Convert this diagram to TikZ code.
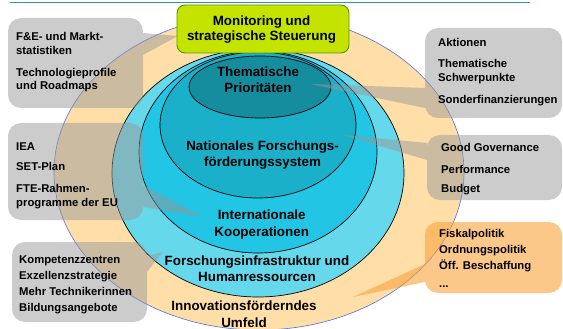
\documentclass[tikz,border=0pt]{standalone}
\usepackage{fontspec}
\setmainfont{Liberation Sans}
\definecolor{peach}{HTML}{FFDEA8}
\definecolor{ringA}{HTML}{66D8EB}
\definecolor{ringB}{HTML}{22C5E3}
\definecolor{ringC}{HTML}{1BB0CA}
\definecolor{ringD}{HTML}{168C9F}
\definecolor{limegreen}{HTML}{C4E400}
\definecolor{limeedge}{HTML}{4E9A06}
\definecolor{outerblue}{HTML}{4D6FE8}
\definecolor{topline}{HTML}{2E93AC}
\definecolor{orangebox}{HTML}{F9A33C}
\tikzset{
  grayco/.style={fill=black!40, fill opacity=0.5},
  orangeco/.style={fill=orangebox, fill opacity=0.6},
  ringline/.style={draw=black, line width=0.7pt},
  sidetxt/.style={anchor=base west, inner sep=0pt, font=\bfseries\fontsize{11.3}{13}\selectfont},
  maintxt/.style={anchor=base, inner sep=0pt, font=\bfseries\fontsize{13.4}{16}\selectfont},
}
% #1 style, #2 x1, #3 y1, #4 x2, #5 y2, #6 b1, #7 b2, #8 tip x, #9 tip y  (corner radius 13)
\newcommand{\calloutR}[9]{%
  \fill[#1] (#2+13,#3) -- (#4-13,#3) .. controls (#4-5.8,#3) and (#4,#3+5.8) .. (#4,#3+13)
    -- (#4,#6) -- (#8,#9) -- (#4,#7)
    -- (#4,#5-13) .. controls (#4,#5-5.8) and (#4-5.8,#5) .. (#4-13,#5)
    -- (#2+13,#5) .. controls (#2+5.8,#5) and (#2,#5-5.8) .. (#2,#5-13)
    -- (#2,#3+13) .. controls (#2,#3+5.8) and (#2+5.8,#3) .. (#2+13,#3) -- cycle;}
\newcommand{\calloutL}[9]{%
  \fill[#1] (#2+13,#3) -- (#4-13,#3) .. controls (#4-5.8,#3) and (#4,#3+5.8) .. (#4,#3+13)
    -- (#4,#5-13) .. controls (#4,#5-5.8) and (#4-5.8,#5) .. (#4-13,#5)
    -- (#2+13,#5) .. controls (#2+5.8,#5) and (#2,#5-5.8) .. (#2,#5-13)
    -- (#2,#7) -- (#8,#9) -- (#2,#6)
    -- (#2,#3+13) .. controls (#2,#3+5.8) and (#2+5.8,#3) .. (#2+13,#3) -- cycle;}
\begin{document}
\begin{tikzpicture}[x=1pt,y=-1pt]
\useasboundingbox (0,0) rectangle (563,329);
% top line
\draw[topline, line width=1.3pt] (10,2.5) -- (530,2.5);
% outer ellipse and rings
\filldraw[fill=peach, draw=outerblue, line width=0.6pt] (259,172) ellipse [x radius=205pt, y radius=158pt];
\filldraw[fill=ringA, ringline] (258,173) ellipse [x radius=146pt, y radius=124pt];
\filldraw[fill=ringB, ringline] (258,152) ellipse [x radius=119pt, y radius=101pt];
\filldraw[fill=ringC, ringline] (258,125) ellipse [x radius=98pt, y radius=73pt];
\filldraw[fill=ringD, ringline] (260,87) ellipse [x radius=71pt, y radius=31pt];
% callout boxes
\calloutR{grayco}{8}{18}{143}{108}{33}{55}{178}{36}
\calloutR{grayco}{8}{123}{143}{220}{185}{207}{202}{217}
\calloutR{grayco}{12}{242}{147}{322}{256}{272}{163}{252}
\calloutL{grayco}{425}{28}{562}{118}{88}{108}{310}{84}
\calloutL{grayco}{427}{135}{562}{200}{143}{160}{343}{135}
\calloutL{orangeco}{425}{222}{562}{293}{264}{282}{353}{297}
% green box
\filldraw[fill=limegreen, draw=limeedge, line width=0.9pt, rounded corners=8pt] (177,5) rectangle (349,53);
% main labels
\node[maintxt] (mon1) at (261.5,26) {Monitoring und};
\node[maintxt] (mon2) at (261.5,41) {strategische Steuerung};
\node[maintxt] (tp1) at (258,76.5) {Thematische};
\node[maintxt] (tp2) at (258,92.5) {Prioritäten};
\node[maintxt] (nf1) at (262.6,150.5) {Nationales Forschungs-};
\node[maintxt] (nf2) at (262.6,167) {förderungssystem};
\node[maintxt] (ik1) at (261.7,219.6) {Internationale};
\node[maintxt] (ik2) at (261.7,236.3) {Kooperationen};
\node[maintxt] (fi1) at (257,265.6) {Forschungsinfrastruktur und};
\node[maintxt] (fi2) at (257,281.3) {Humanressourcen};
\node[maintxt] (iu1) at (244,310.3) {Innovationsförderndes};
\node[maintxt] (iu2) at (244,327) {Umfeld};
% side texts
\node[sidetxt] (a1) at (16,41) {F\&E- und Markt-};
\node[sidetxt] (a2) at (16,55) {statistiken};
\node[sidetxt] (a3) at (16,77) {Technologieprofile};
\node[sidetxt] (a4) at (16,90) {und Roadmaps};
\node[sidetxt] (e1) at (16,150) {IEA};
\node[sidetxt] (e2) at (16,171) {SET-Plan};
\node[sidetxt] (e3) at (16,192) {FTE-Rahmen-};
\node[sidetxt] (e4) at (16,206) {programme der EU};
\node[sidetxt] (f1) at (19,263) {Kompetenzzentren};
\node[sidetxt] (f2) at (19,279) {Exzellenzstrategie};
\node[sidetxt] (f3) at (19,295) {Mehr Technikerinnen};
\node[sidetxt] (f4) at (19,311) {Bildungsangebote};
\node[sidetxt] (b1) at (438,47) {Aktionen};
\node[sidetxt] (b2) at (438,68) {Thematische};
\node[sidetxt] (b3) at (438,82) {Schwerpunkte};
\node[sidetxt] (b4) at (438,104) {Sonderfinanzierungen};
\node[sidetxt] (c1) at (441,152) {Good Governance};
\node[sidetxt] (c2) at (441,173) {Performance};
\node[sidetxt] (c3) at (441,193) {Budget};
\node[sidetxt] (d1) at (439,237) {Fiskalpolitik};
\node[sidetxt] (d2) at (439,253) {Ordnungspolitik};
\node[sidetxt] (d3) at (439,269) {Öff. Beschaffung};
\node[sidetxt] (d4) at (439,287) {...};
\end{tikzpicture}
\end{document}
